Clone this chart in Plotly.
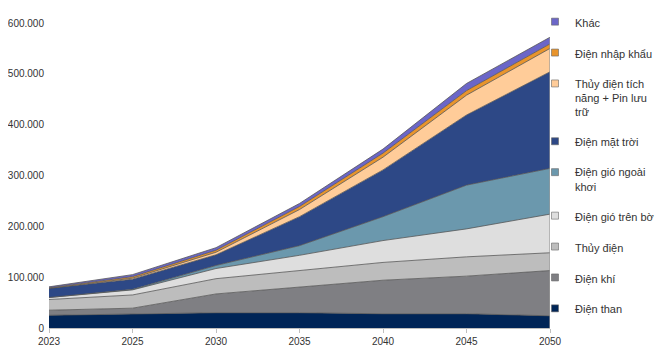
import plotly.graph_objects as go

years = ["2023", "2025", "2030", "2035", "2040", "2045", "2050"]

dien_than = [25000, 27000, 30000, 30000, 28000, 28000, 24000]
dien_khi = [10000, 12000, 37000, 50000, 66000, 74000, 89000]
thuy_dien = [21000, 26000, 30000, 33000, 35000, 38000, 35000]
gio_tren_bo = [4000, 10000, 20000, 30000, 43000, 55000, 76000]
gio_ngoai_khoi = [0, 1000, 6000, 19000, 47000, 86000, 90000]
mat_troi = [18000, 20000, 21000, 57000, 92000, 138000, 190000]
tich_nang = [0, 2000, 5000, 14000, 25000, 39000, 46000]
nhap_khau = [1000, 3000, 4000, 6000, 8000, 9000, 9000]
khac = [2000, 4000, 5000, 6000, 8000, 14000, 13000]

series = [
    ("Điện than", dien_than, "#002557"),
    ("Điện khí", dien_khi, "#7f7f83"),
    ("Thủy điện", thuy_dien, "#bdbdbd"),
    ("Điện gió trên bờ", gio_tren_bo, "#dedede"),
    ("Điện gió ngoài<br>khơi", gio_ngoai_khoi, "#6b98ad"),
    ("Điện mặt trời", mat_troi, "#2d4886"),
    ("Thủy điện tích<br>năng + Pin lưu<br>trữ", tich_nang, "#ffcc99"),
    ("Điện nhập khẩu", nhap_khau, "#e8942c"),
    ("Khác", khac, "#6b66c8"),
]

fig = go.Figure()
for name, vals, col in series:
    fig.add_trace(go.Scatter(
        x=years, y=vals, stackgroup="one", mode="lines",
        line=dict(color="#555555", width=0.8), fillcolor=col,
        name=name, showlegend=False, hoverinfo="skip",
    ))

# right-edge outline of the stacked area
total_last = sum(s[1][-1] for s in series)
fig.add_trace(go.Scatter(
    x=[years[-1], years[-1]], y=[0, total_last], mode="lines",
    line=dict(color="#9a9a9a", width=1.2), showlegend=False, hoverinfo="skip",
))

# legend entries (small squares), top of stack first
for i, (name, vals, col) in enumerate(reversed(series)):
    fig.add_trace(go.Scatter(
        x=[None], y=[None], mode="markers", name=name,
        legendgroup="g%d" % i,
        marker=dict(symbol="square", size=7, color=col,
                    line=dict(color="#666666", width=0.6)),
    ))

W, H = 655, 350  # page body has an 8px margin inside the 663x358 window

fig.update_layout(
    width=W, height=H,
    margin=dict(l=41, r=113, t=15, b=30, autoexpand=False),
    paper_bgcolor="white", plot_bgcolor="white",
    separators=",.",
    font=dict(family="Liberation Sans, Arial, sans-serif", size=10, color="#333333"),
    showlegend=True,
    legend=dict(
        xref="container", yref="container",
        x=527 / W, xanchor="left",
        y=1.0, yanchor="top",
        traceorder="grouped", valign="top",
        tracegroupgap=11.9,
        itemwidth=30,
        maxheight=1,
        font=dict(size=11, color="#333333"),
        bgcolor="rgba(0,0,0,0)",
    ),
    xaxis=dict(
        type="category", range=[0, 6], automargin=False,
        showgrid=False, showline=True, linecolor="#bfbfbf", linewidth=1,
        ticks="outside", ticklen=4, tickcolor="#bfbfbf",
        tickfont=dict(size=10, color="#333333"),
        zeroline=False,
    ),
    yaxis=dict(
        range=[0, 600000], dtick=100000, tickformat=",d", automargin=False,
        showgrid=False, showline=False, zeroline=False,
        ticks="", ticklabelstandoff=4,
        tickfont=dict(size=10, color="#333333"),
    ),
)

fig.write_html("out.html")
